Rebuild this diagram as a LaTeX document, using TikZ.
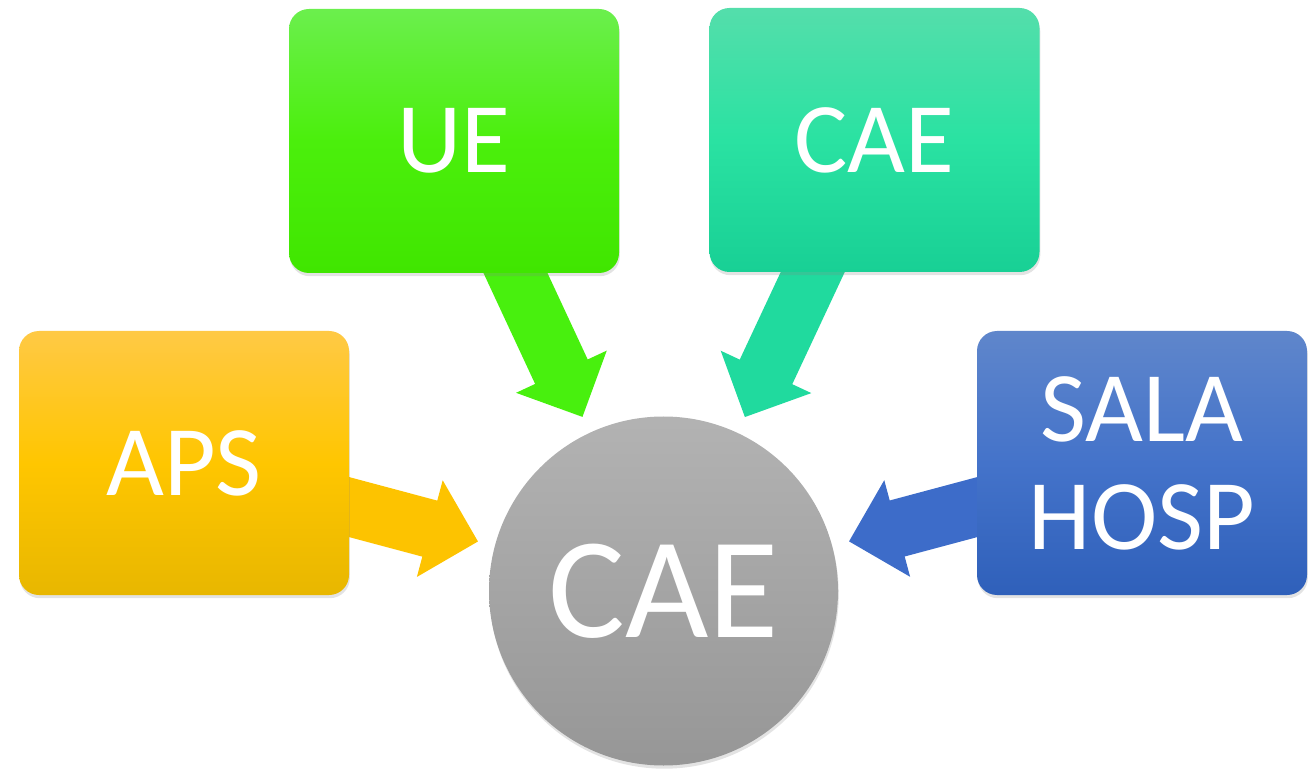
\documentclass[tikz,border=0pt]{standalone}
\usepackage{fontspec}
\setmainfont{Carlito}
\usepackage{xcolor}
\usetikzlibrary{positioning, arrows.meta, shadows, backgrounds}

\definecolor{apsTop}{HTML}{FFC945}
\definecolor{apsMid}{HTML}{FFC600}
\definecolor{apsBot}{HTML}{E8B700}
\definecolor{ueTop}{HTML}{6BEF4D}
\definecolor{ueMid}{HTML}{4BEF0C}
\definecolor{ueBot}{HTML}{40E600}
\definecolor{caeTop}{HTML}{54DEAB}
\definecolor{caeMid}{HTML}{2AE2A2}
\definecolor{caeBot}{HTML}{18D095}
\definecolor{salaTop}{HTML}{5F86CB}
\definecolor{salaMid}{HTML}{4473CA}
\definecolor{salaBot}{HTML}{2F60BA}

\begin{document}
\begin{tikzpicture}[x=0.5pt, y=-0.5pt,
		box/.style={rounded corners=10pt, minimum width=165pt, minimum height=132pt,
			text=white, align=center, font=\fontsize{50}{54}\selectfont,
			drop shadow={opacity=0.22, shadow xshift=0.4pt, shadow yshift=-1.6pt}},
		feed/.style={line width=29pt, -{Triangle[length=25pt, width=48.5pt]}, shorten >=8.5pt}]
		\useasboundingbox (0,0) rectangle (1315,769);
		
		\node[circle, minimum size=174.5pt, top color=black!30, bottom color=black!41,
		text=white, font=\fontsize{72}{80}\selectfont,
		drop shadow={opacity=0.22, shadow xshift=0.4pt, shadow yshift=-1.6pt}] (hub) at (663.5,591) {CAE};
		
		\node[box, top color=apsTop, bottom color=apsBot, middle color=apsMid] (aps) at (184,463) {APS};
		\node[box, top color=ueTop, bottom color=ueBot, middle color=ueMid] (ue) at (454,141) {UE};
		\node[box, top color=caeTop, bottom color=caeBot, middle color=caeMid] (cae) at (874.5,140) {CAE};
		\node[box, top color=salaTop, bottom color=salaBot, middle color=salaMid] (sala) at (1142,463) {SALA\\HOSP};
		
		% arrows run from under each box into the hub
		\begin{scope}[on background layer]
			\draw[feed, draw={rgb,255:red,253;green,195;blue,0}, fill={rgb,255:red,253;green,195;blue,0}] (aps.center) -- (hub);
			\draw[feed, draw={rgb,255:red,72;green,240;blue,14}, fill={rgb,255:red,72;green,240;blue,14}] (ue.center) -- (hub);
			\draw[feed, draw={rgb,255:red,32;green,218;blue,158}, fill={rgb,255:red,32;green,218;blue,158}] (cae.center) -- (hub);
			\draw[feed, draw={rgb,255:red,61;green,108;blue,201}, fill={rgb,255:red,61;green,108;blue,201}] (sala.center) -- (hub);
		\end{scope}
	\end{tikzpicture}
\end{document}
